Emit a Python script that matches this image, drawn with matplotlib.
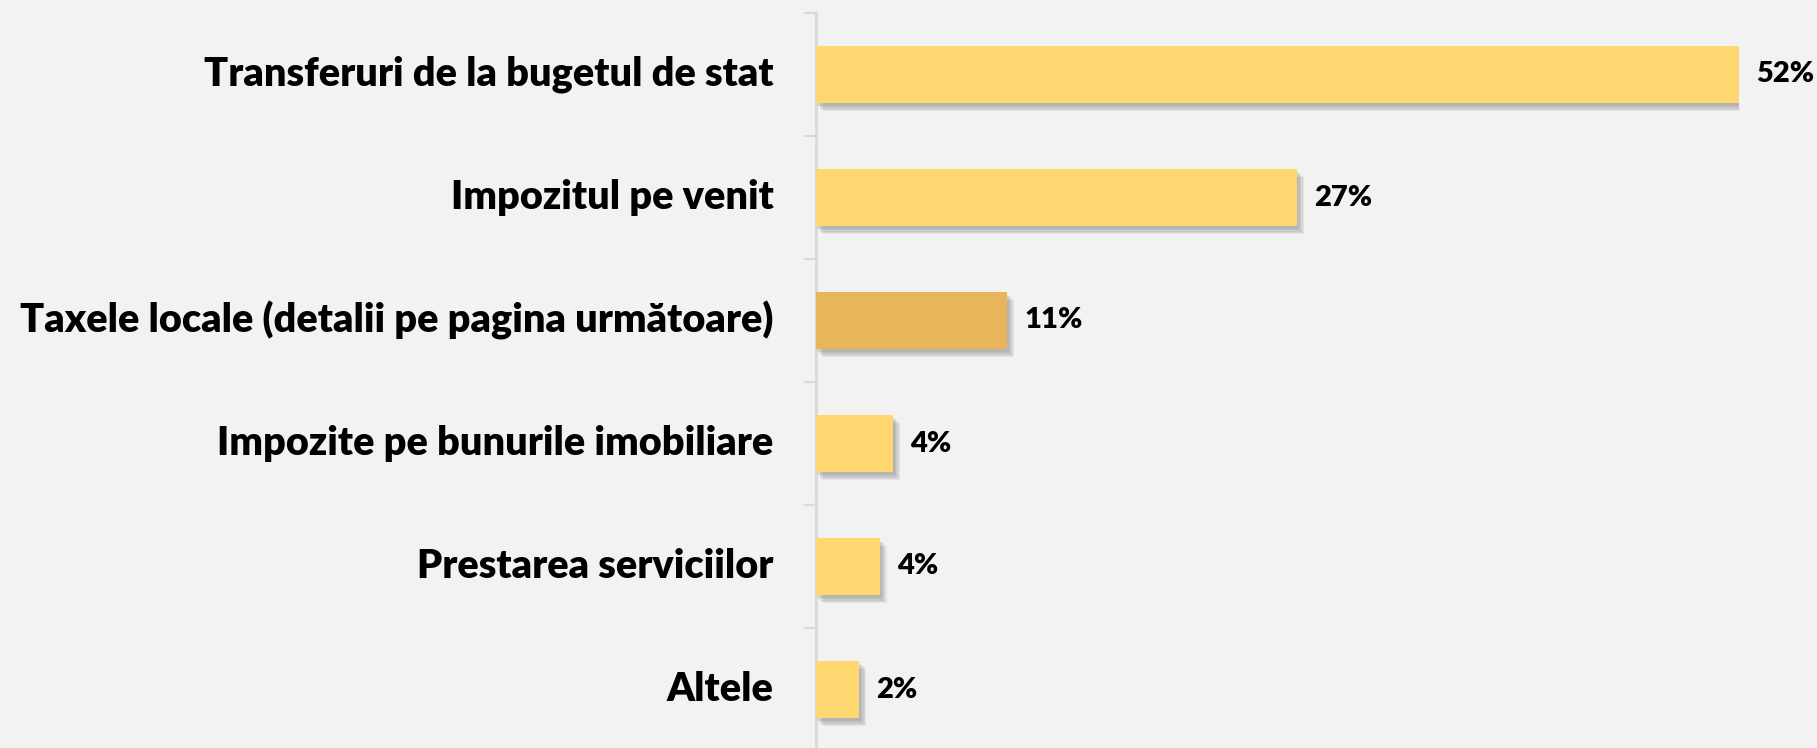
import matplotlib
matplotlib.use('Agg')
import matplotlib.pyplot as plt
import matplotlib.patheffects as pe

categories = ['Transferuri de la bugetul de stat', 'Impozitul pe venit',
              'Taxele locale (detalii pe pagina următoare)',
              'Impozite pe bunurile imobiliare', 'Prestarea serviciilor', 'Altele']
values = [51.8, 27.0, 10.75, 4.35, 3.6, 2.45]
value_labels = ['52%', '27%', '11%', '4%', '4%', '2%']
highlight = 2  # taxele locale

bg = '#F2F2F2'
plt.rcParams['font.family'] = ['Lato', 'DejaVu Sans']

fig = plt.figure(figsize=(18.17, 7.48), dpi=100, facecolor=bg)
ax = fig.add_axes([815.7 / 1817, -3 / 748, (1739 - 815.7) / 1817, 738 / 748])
ax.set_facecolor(bg)

colors = ['#E8B55A' if i == highlight else '#FFD770' for i in range(len(values))]
y = list(range(len(values)))
bars = ax.barh(y, values, height=0.465, color=colors, zorder=3)
# soft shadow, built from a few stacked offsets
shadow = [pe.SimplePatchShadow(offset=(k, -k - 1), shadow_rgbFace='#606060', alpha=0.1)
          for k in (1, 2, 3, 4, 5)]
for b in bars:
    b.set_path_effects(shadow + [pe.Normal()])

ax.set_xlim(0, values[0])
ax.set_ylim(len(values) - 0.5, -0.5)

for sp in ['top', 'right', 'bottom']:
    ax.spines[sp].set_visible(False)
ax.spines['left'].set_color('#D9D9D9')
ax.spines['left'].set_linewidth(2)

ax.set_xticks([])
ax.set_yticks([i - 0.5 for i in range(len(values) + 1)])
ax.set_yticklabels([])
ax.tick_params(axis='y', length=9, width=1.5, color='#D9D9D9')

for i, c in enumerate(categories):
    ax.annotate(c, xy=(0, i), xycoords=('axes fraction', 'data'), xytext=(-42, 0),
                textcoords='offset pixels', ha='right', va='center',
                fontsize=28.5, fontweight='heavy', color='black')

for i, (v, lab) in enumerate(zip(values, value_labels)):
    ax.annotate(lab, xy=(v, i), xytext=(17, 0), textcoords='offset pixels',
                ha='left', va='center', fontsize=21, fontweight='heavy',
                color='black', annotation_clip=False)

fig.savefig('out.png', dpi=100, facecolor=bg)
